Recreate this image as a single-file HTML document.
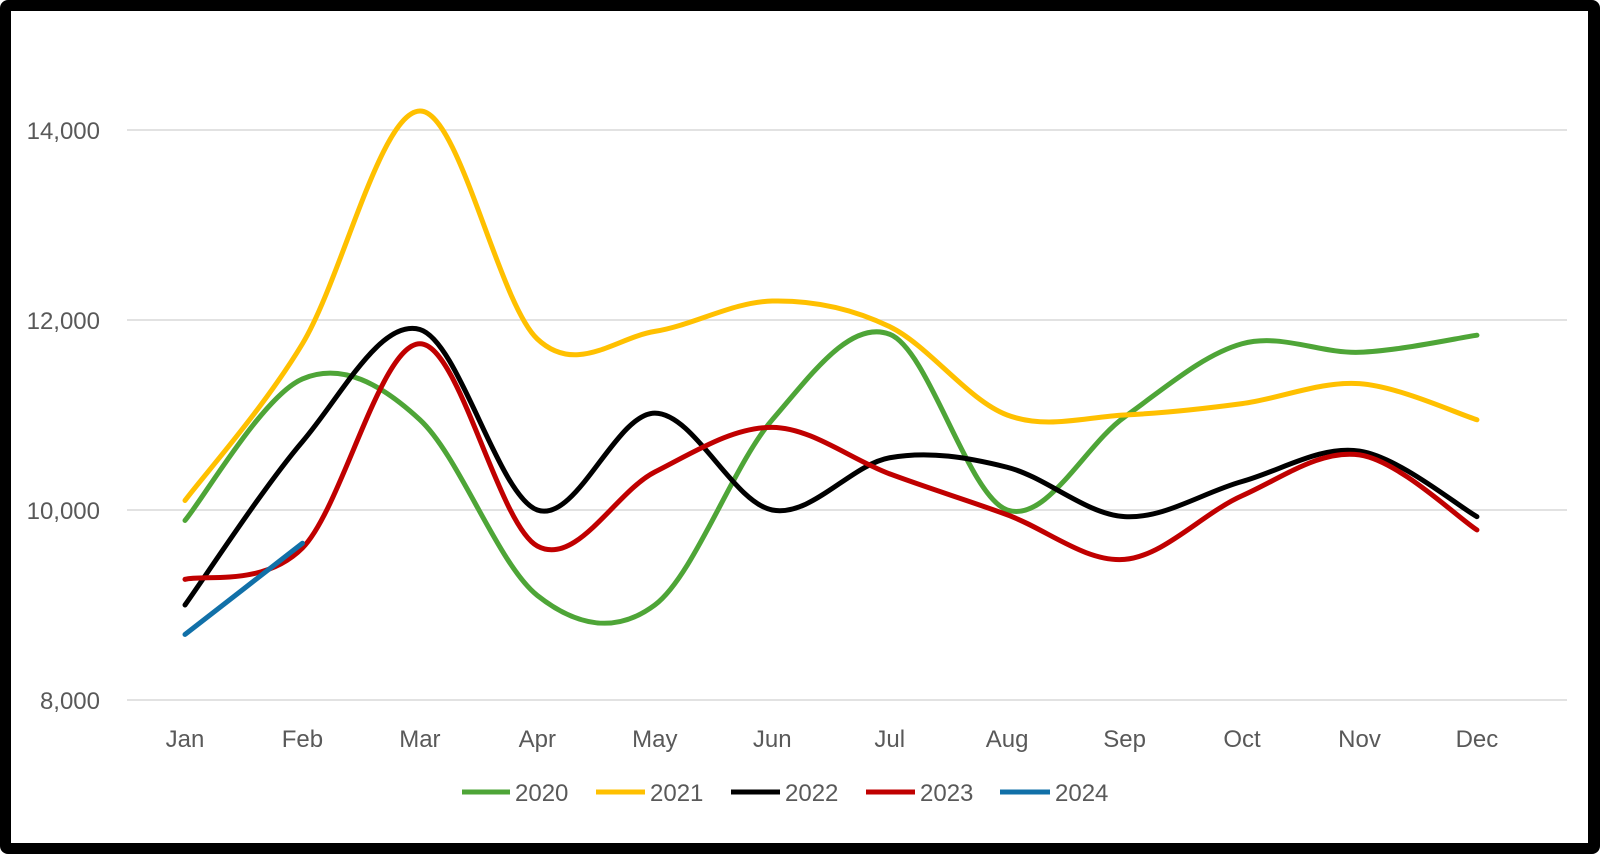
<!DOCTYPE html>
<html><head><meta charset="utf-8"><style>
html,body{margin:0;padding:0;background:#fff}
svg{display:block}
text{font-family:"Liberation Sans",sans-serif;fill:#595959;font-size:24px}
</style></head><body>
<svg id="s" width="1600" height="854" xmlns="http://www.w3.org/2000/svg">
<rect x="0" y="0" width="1600" height="854" rx="8" fill="#000"/>
<rect x="11" y="11" width="1577" height="832" fill="#fff"/>
<g stroke="#d9d9d9" stroke-width="1.5">
<line x1="127" y1="130" x2="1567" y2="130"/>
<line x1="127" y1="320" x2="1567" y2="320"/>
<line x1="127" y1="510" x2="1567" y2="510"/>
<line x1="127" y1="700" x2="1567" y2="700"/>
</g>
<g text-anchor="end">
<text x="100" y="139">14,000</text>
<text x="100" y="329">12,000</text>
<text x="100" y="519">10,000</text>
<text x="100" y="709">8,000</text>
</g>
<g id="months" text-anchor="middle"></g>
<g id="lines" fill="none" stroke-width="5" stroke-linecap="round" stroke-linejoin="round"></g>
<g stroke-width="5">
<line x1="462" y1="792" x2="510" y2="792" stroke="#4ea537"/>
<line x1="596" y1="792" x2="645" y2="792" stroke="#ffc000"/>
<line x1="731" y1="792" x2="780" y2="792" stroke="#000"/>
<line x1="866" y1="792" x2="915" y2="792" stroke="#c00000"/>
<line x1="1000" y1="792" x2="1050" y2="792" stroke="#1170a8"/>
</g>
<text x="515" y="801">2020</text>
<text x="650" y="801">2021</text>
<text x="785" y="801">2022</text>
<text x="920" y="801">2023</text>
<text x="1055" y="801">2024</text>
</svg>
<script>
var X=function(i){return 185+i*117.45};
var Y=function(v){return 510-(v-10000)*0.095};
var m=["Jan","Feb","Mar","Apr","May","Jun","Jul","Aug","Sep","Oct","Nov","Dec"];
var g=document.getElementById("months"),ns="http://www.w3.org/2000/svg";
m.forEach(function(t,i){var e=document.createElementNS(ns,"text");e.setAttribute("x",X(i));e.setAttribute("y",747);e.textContent=t;g.appendChild(e);});
var S=[["#4ea537",[9890,11380,10950,9100,9000,10950,11850,10000,10980,11750,11660,11840]],
["#ffc000",[10100,11750,14200,11800,11880,12200,11930,11000,11000,11120,11330,10950]],
["#000000",[9000,10720,11900,10000,11020,10000,10550,10450,9930,10300,10620,9930]],
["#c00000",[9270,9600,11750,9620,10400,10870,10380,9950,9480,10150,10580,9790]],
["#1170a8",[8690,9650]]];
var L=document.getElementById("lines");
S.forEach(function(s){var p=s[1].map(function(v,i){return[X(i),Y(v)]});var d="M"+p[0][0]+","+p[0][1];
for(var i=0;i<p.length-1;i++){var a=p[Math.max(i-1,0)],b=p[i],c=p[i+1],e=p[Math.min(i+2,p.length-1)];
var t=1/6;d+=" C"+(b[0]+(c[0]-a[0])*t)+","+(b[1]+(c[1]-a[1])*t)+" "+(c[0]-(e[0]-b[0])*t)+","+(c[1]-(e[1]-b[1])*t)+" "+c[0]+","+c[1];}
var pa=document.createElementNS(ns,"path");pa.setAttribute("d",d);pa.setAttribute("stroke",s[0]);L.appendChild(pa);});
</script>
</body></html>
